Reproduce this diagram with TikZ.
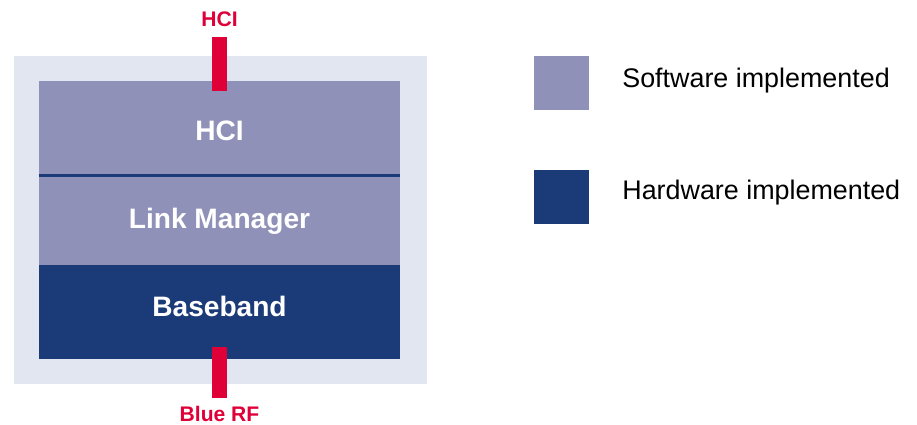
\documentclass[tikz,border=0pt]{standalone}
\usepackage{fontspec}
\setmainfont{Liberation Sans}
\usepackage{tikz}
\definecolor{bgblue}{HTML}{E1E6F1}
\definecolor{swcol}{HTML}{8F91B8}
\definecolor{hwcol}{HTML}{1B3A78}
\definecolor{ifred}{HTML}{DF0038}
\usetikzlibrary{positioning}

\begin{document}
\begin{tikzpicture}[x=0.02cm, y=-0.02cm,
  layer/.style={rectangle, inner sep=0pt, minimum width=7.22cm},
  swlayer/.style={layer, fill=swcol},
  hwlayer/.style={layer, fill=hwcol},
  layertext/.style={anchor=base, inner sep=0pt, text=white,
    font=\fontsize{16}{18}\selectfont\bfseries},
  bar/.style={rectangle, inner sep=0pt, minimum width=0.3cm, fill=ifred},
  barlabel/.style={anchor=base, inner sep=0pt, text=ifred,
    font=\fontsize{12}{14}\selectfont\bfseries},
  legbox/.style={rectangle, inner sep=0pt, minimum width=1.1cm, minimum height=1.08cm},
  legtext/.style={anchor=base west, inner sep=0pt, font=\fontsize{15.3}{18}\selectfont}]
  \useasboundingbox (0,0) rectangle (917,425);
  % stack
  \node[rectangle, fill=bgblue, minimum width=8.26cm, minimum height=6.56cm] (stack) at (220.5,220) {};
  \node[swlayer, minimum height=1.88cm] (hci) at (219.5,128) {};
  \node[swlayer, minimum height=1.8cm] (lm) at (219.5,220) {};
  \node[hwlayer, minimum height=1.88cm] (bb) at (219.5,312) {};
  \draw[hwcol, line width=1.7pt] (hci.south west) -- (hci.south east);
  \node[layertext] (hcitext) at (219.5,141) {HCI};
  \node[layertext] (lmtext) at (219.5,229) {Link Manager};
  \node[layertext] (bbtext) at (219.5,317) {Baseband};
  % interfaces
  \node[bar, minimum height=1.08cm] (topbar) at (219.5,64) {};
  \node[barlabel] (toplabel) at (219.5,27) {HCI};
  \node[bar, minimum height=1.02cm] (botbar) at (219.5,372.5) {};
  \node[barlabel] (botlabel) at (219.5,422) {Blue RF};
  % legend
  \node[legbox, fill=swcol] (swbox) at (561.5,83) {};
  \node[legtext] (swtext) at (622,88) {Software implemented};
  \node[legbox, fill=hwcol] (hwbox) at (561.5,197) {};
  \node[legtext] (hwtext) at (622,200) {Hardware implemented};
\end{tikzpicture}
\end{document}
